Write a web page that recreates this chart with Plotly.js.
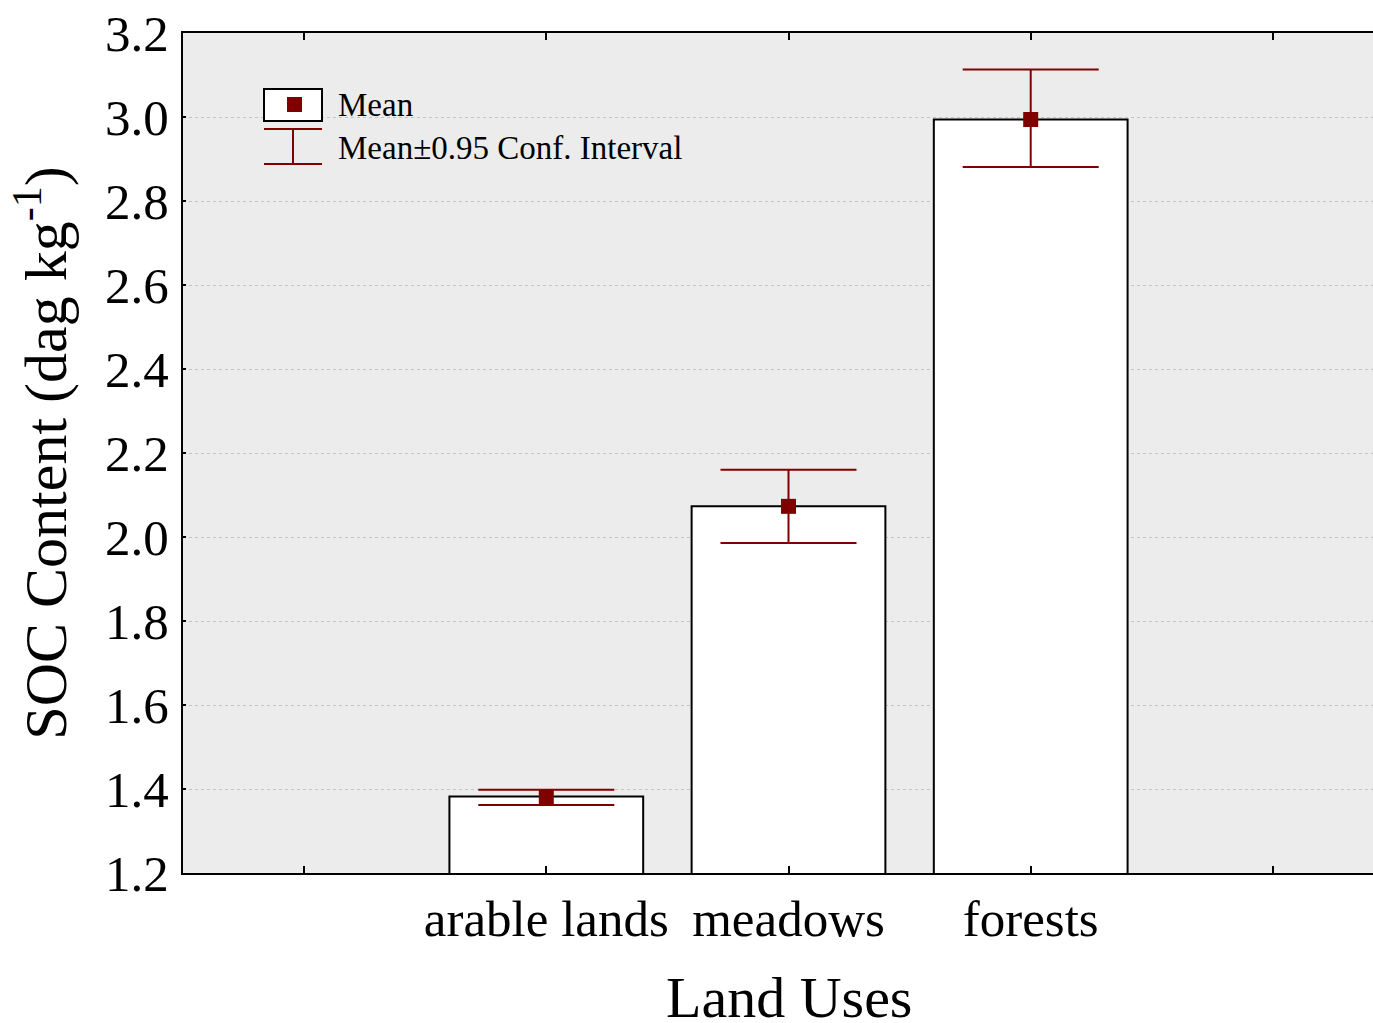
<!DOCTYPE html>
<html>
<head>
<meta charset="utf-8">
<script src="https://cdn.plot.ly/plotly-3.0.1.min.js"></script>
<style>
  html, body { margin: 0; padding: 0; overflow: hidden; background: #ffffff; }
  #chart { width: 1394px; height: 1023px; }
</style>
</head>
<body>
<div id="chart"></div>
<script>
// Soil organic carbon content by land use: mean with 95% confidence interval
const landUses = ["arable lands", "meadows", "forests"];
const meanSOC = [1.382, 2.073, 2.994];
const ciUpper = [1.398, 2.160, 3.113];
const ciLower = [1.362, 1.986, 2.881];

const yTicks = [1.2, 1.4, 1.6, 1.8, 2.0, 2.2, 2.4, 2.6, 2.8, 3.0, 3.2];

const positions = landUses.map((_, i) => i);
const errPlus = meanSOC.map((m, i) => ciUpper[i] - m);
const errMinus = meanSOC.map((m, i) => m - ciLower[i]);

const serif = "Liberation Serif, Times New Roman, serif";
const darkRed = "#800000";

// plot area in pixels, used to place the key and x title in paper units
const M = { l: 183, r: 0, t: 33, b: 150 };
const W = 1394, H = 1023;
const pw = W - M.l - M.r, ph = H - M.t - M.b;
const px = v => (v - M.l) / pw;
const py = v => (H - M.b - v) / ph;

const traces = [
  {
    type: "bar",
    x: positions,
    y: meanSOC,
    width: 0.8,
    marker: { color: "#ffffff", line: { color: "#000000", width: 2 } },
    hoverinfo: "skip",
    showlegend: false
  },
  {
    type: "scatter",
    mode: "markers",
    x: positions,
    y: meanSOC,
    marker: { symbol: "square", size: 15, color: darkRed },
    error_y: {
      type: "data",
      symmetric: false,
      array: errPlus,
      arrayminus: errMinus,
      color: darkRed,
      thickness: 2,
      width: 68
    },
    showlegend: false
  }
];

const keyShapes = [
  { type: "rect", xref: "paper", yref: "paper", x0: px(264), x1: px(322), y0: py(121), y1: py(89),
    fillcolor: "#ffffff", line: { color: "#000000", width: 2 } },
  { type: "rect", xref: "paper", yref: "paper", x0: px(287), x1: px(302), y0: py(112), y1: py(97),
    fillcolor: darkRed, line: { width: 0 } },
  { type: "line", xref: "paper", yref: "paper", x0: px(264), x1: px(322), y0: py(129), y1: py(129),
    line: { color: darkRed, width: 2 } },
  { type: "line", xref: "paper", yref: "paper", x0: px(264), x1: px(322), y0: py(164), y1: py(164),
    line: { color: darkRed, width: 2 } },
  { type: "line", xref: "paper", yref: "paper", x0: px(293), x1: px(293), y0: py(129), y1: py(164),
    line: { color: darkRed, width: 2 } }
];

const keyText = [
  { text: "Mean", x: px(336), y: py(105) },
  { text: "Mean\u00b10.95 Conf. Interval", x: px(336), y: py(148) }
].map(a => Object.assign({
  xref: "paper", yref: "paper", xanchor: "left", yanchor: "middle", showarrow: false,
  font: { family: serif, size: 33, color: "#000000" }
}, a));

// x-axis title, centred under the plot area
const xTitle = {
  text: "Land Uses", xref: "paper", yref: "paper", x: 0.5, y: py(998),
  xanchor: "center", yanchor: "middle", showarrow: false,
  font: { family: serif, size: 58, color: "#000000" }
};

const layout = {
  width: W,
  height: H,
  margin: M,
  paper_bgcolor: "#ffffff",
  plot_bgcolor: "#ececec",
  showlegend: false,
  font: { family: serif, color: "#000000" },
  xaxis: {
    range: [-1.5, 3.5],
    tickvals: positions,
    ticktext: landUses,
    ticks: "inside",
    ticklen: 7,
    tickwidth: 2,
    tickcolor: "#000000",
    minor: { ticks: "inside", ticklen: 7, tickwidth: 2, tickcolor: "#000000", tick0: 0, dtick: 1, showgrid: false },
    showline: true,
    linecolor: "#000000",
    linewidth: 2,
    mirror: "ticks",
    showgrid: false,
    zeroline: false,
    ticklabelstandoff: 0,
    tickfont: { family: serif, size: 51, color: "#000000" }
  },
  yaxis: {
    range: [1.2, 3.2],
    tickvals: yTicks,
    ticktext: yTicks.map(v => v.toFixed(1)),
    ticks: "inside",
    ticklen: 3,
    tickwidth: 2,
    tickcolor: "#000000",
    showline: true,
    linecolor: "#000000",
    linewidth: 2,
    showgrid: true,
    gridcolor: "#c4c4c4",
    gridwidth: 1,
    griddash: "dot",
    zeroline: false,
    ticklabelstandoff: 2,
    tickfont: { family: serif, size: 51, color: "#000000" },
    title: { text: "SOC Content (dag kg<sup>-1</sup>)", font: { family: serif, size: 60, color: "#000000" }, standoff: 19 }
  },
  shapes: keyShapes,
  annotations: [...keyText, xTitle]
};

Plotly.newPlot("chart", traces, layout, { displayModeBar: false, staticPlot: true });
</script>
</body>
</html>
